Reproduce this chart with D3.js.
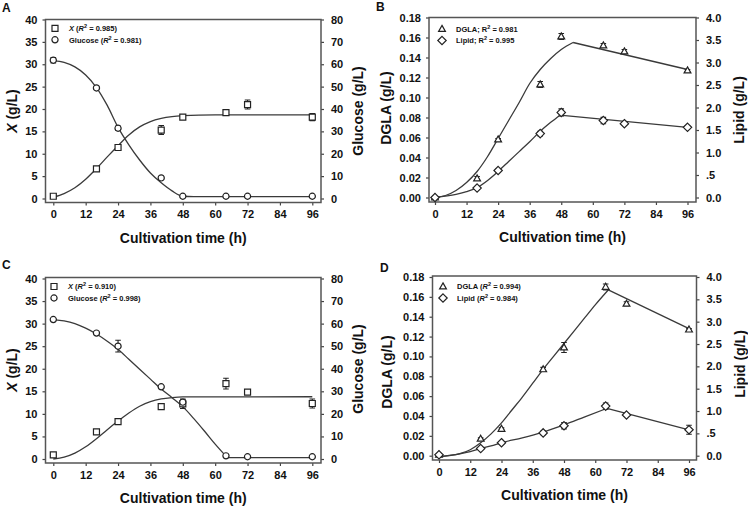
<!DOCTYPE html>
<html><head><meta charset="utf-8">
<script src="https://cdn.jsdelivr.net/npm/d3@7/dist/d3.min.js"></script>
<style>
body{margin:0;background:#fff;}
svg text{font-family:"Liberation Sans",Arial,sans-serif;font-weight:bold;fill:#111;}
</style></head><body>
<svg id="c" width="748" height="506"></svg>
<script>
// ---------- shared ----------
const sampleTimes = [0,16,24,40,48,64,72,96];
const timeTicks = [0,12,24,36,48,60,72,84,96];
const xTitle = "Cultivation time (h)";

// ---------- Panel A (biomass X left, glucose right) ----------
const aBiomass    = [0.5, 6.6, 11.4, 15.3, 18.2, 19.2, 21.0, 18.2];
const aBiomassErr = [0.2, 0.3, 0.5, 1.0, 0.3, 0.4, 1.0, 0.8];
const aGlucose    = [61.8, 49.4, 31.4, 9.2, 1.0, 1.0, 1.0, 1.0];
const aGlucoseErr = [1.2, 0.6, 1.0, 0.4, 0.3, 0.3, 0.3, 0.3];
const aBiomassFitT = [0,4,8,12,16,20,24,28,32,36,40,44,48,60,96];
const aBiomassFit  = [0.3,1.1,2.4,4.3,6.7,9.3,11.8,14.2,16.0,17.2,17.9,18.3,18.5,18.7,18.7];
const aGlucoseFitT = [0,4,8,12,16,20,24,28,32,36,40,44,48,52,96];
const aGlucoseFit  = [61.6,60.8,58.8,55.2,49.6,41.6,31.8,24.0,17.2,11.4,7.0,3.4,1.0,0.8,0.8];

// ---------- Panel B (DGLA left, lipid right) ----------
const bDgla      = [0.000, 0.019, 0.058, 0.113, 0.161, 0.152, 0.146, 0.127];
const bDglaErr   = [0.001, 0.002, 0.001, 0.003, 0.003, 0.002, 0.002, 0.001];
const bLipid     = [0.00, 0.21, 0.60, 1.42, 1.89, 1.71, 1.64, 1.56];
const bLipidErr  = [0.02, 0.03, 0.03, 0.05, 0.08, 0.07, 0.03, 0.03];
const bDglaFitT  = [0,4,8,12,16,20,24,28,32,36,40,44,48,52.5,96];
const bDglaFit   = [0.000,0.002,0.007,0.015,0.026,0.041,0.059,0.077,0.095,0.114,0.128,0.139,0.148,0.155,0.128];
const bLipidFitT = [0,8,12,16,20,24,28,32,36,40,44,47.5,96];
const bLipidFit  = [0.00,0.07,0.13,0.22,0.38,0.58,0.80,1.02,1.24,1.47,1.67,1.83,1.56];

// ---------- Panel C (biomass X left, glucose right) ----------
const cBiomass    = [0.9, 6.0, 8.3, 11.6, 12.2, 16.7, 14.8, 12.3];
const cBiomassErr = [0.2, 0.3, 0.3, 0.3, 1.0, 1.2, 0.3, 1.0];
const cGlucose    = [61.8, 55.8, 50.0, 32.0, 25.2, 1.4, 1.0, 1.0];
const cGlucoseErr = [0.5, 0.5, 2.6, 0.5, 1.4, 0.3, 0.3, 0.3];
const cBiomassFitT = [0,4,8,12,16,20,24,28,32,36,40,44,48,96];
const cBiomassFit  = [0.0,0.4,1.3,2.7,4.5,6.5,8.4,10.2,11.7,12.7,13.3,13.6,13.75,13.8];
const cGlucoseFitT = [0,4,8,12,16,20,24,28,32,36,40,44,48,52,56,60,64.5,96];
const cGlucoseFit  = [61.8,61.2,60.0,58.0,55.4,52.2,48.6,44.2,39.8,35.4,31.0,27.2,23.2,18.0,12.4,6.6,0.6,0.6];

// ---------- Panel D (DGLA left, lipid right) ----------
const dDgla      = [0.001, 0.017, 0.027, 0.087, 0.109, 0.170, 0.153, 0.127];
const dDglaErr   = [0.001, 0.001, 0.001, 0.002, 0.005, 0.003, 0.002, 0.001];
const dLipid     = [0.02, 0.16, 0.29, 0.51, 0.67, 1.11, 0.91, 0.58];
const dLipidErr  = [0.02, 0.02, 0.02, 0.04, 0.07, 0.07, 0.03, 0.10];
const dDglaFitT  = [0,4,8,12,16,20,24,28,32,36,40,44,48,52,56,60,65,96];
const dDglaFit   = [-0.001,0.000,0.002,0.006,0.013,0.022,0.033,0.046,0.059,0.073,0.087,0.100,0.113,0.126,0.139,0.152,0.167,0.128];
const dLipidFitT = [0,8,12,16,20,24,32,40,48,56,64.5,96];
const dLipidFit  = [-0.02,0.04,0.09,0.16,0.22,0.29,0.40,0.53,0.69,0.87,1.06,0.58];

// ---------- axis ticks ----------
const xLeftTicks = [0,5,10,15,20,25,30,35,40];
const glucoseTicks = [0,10,20,30,40,50,60,70,80];
const dglaTicks = [0,0.02,0.04,0.06,0.08,0.10,0.12,0.14,0.16,0.18];
const lipidTicks = [0,0.5,1.0,1.5,2.0,2.5,3.0,3.5,4.0];
const lipidTickLabels = ["0.0",".5","1.0","1.5","2.0","2.5","3.0","3.5","4.0"];

const svg = d3.select("#c");

function sym(g, type, cx, cy) {
  const s = g.append("path").attr("transform", `translate(${cx},${cy})`)
    .attr("fill", "#fff").attr("stroke", "#222").attr("stroke-width", 1.2);
  if (type === "square") s.attr("d", "M-3,-3H3V3H-3Z");
  else if (type === "circle") s.attr("d", d3.symbol(d3.symbolCircle, 30)());
  else if (type === "triangle") s.attr("d", "M0,-3.6L3.4,2.4H-3.4Z");
  else if (type === "diamond") s.attr("d", "M0,-4.2L4.2,0L0,4.2L-4.2,0Z");
}

function panel(cfg) {
  const g = svg.append("g");
  const x = d3.scaleLinear().domain([0, 96]).range(cfg.xr);
  const yL = d3.scaleLinear().domain([0, cfg.leftMax]).range(cfg.yr);
  const yR = d3.scaleLinear().domain([0, cfg.rightMax]).range(cfg.yr);
  const f = cfg.frame;

  // axes
  const ax = g.append("g").attr("transform", `translate(0,${f.y1})`)
    .call(d3.axisBottom(x).tickValues(timeTicks).tickSize(3).tickPadding(5).tickFormat(d3.format("d")));
  const al = g.append("g").attr("transform", `translate(${f.x0},0)`)
    .call(d3.axisLeft(yL).tickValues(cfg.leftTicks).tickSize(3).tickPadding(5).tickFormat(cfg.leftFmt));
  const ar = g.append("g").attr("transform", `translate(${f.x1},0)`)
    .call(d3.axisRight(yR).tickValues(cfg.rightTicks).tickSize(3).tickPadding(7).tickFormat(cfg.rightFmt));
  [ax, al, ar].forEach(a => {
    a.select(".domain").remove();
    a.selectAll(".tick line").attr("stroke", "#444").attr("stroke-width", 1.2);
    a.selectAll(".tick text").attr("font-size", 11).attr("fill", "#111")
      .attr("font-family", '"Liberation Sans",Arial,sans-serif').attr("font-weight", "bold");
  });

  // frame
  g.append("rect").attr("x", f.x0).attr("y", f.y0).attr("width", f.x1 - f.x0).attr("height", f.y1 - f.y0)
    .attr("fill", "none").attr("stroke", "#555").attr("stroke-width", 1.5);

  // fit curves
  cfg.series.forEach(s => {
    const y = s.axis === "L" ? yL : yR;
    const pts = s.fitT.map((t, i) => [t, s.fit[i]]);
    const k = s.kink;
    const a = k == null ? pts : pts.filter(p => p[0] <= k);
    const b = k == null ? [] : pts.filter(p => p[0] >= k);
    const smooth = d3.line().x(p => x(p[0])).y(p => y(p[1])).curve(d3.curveMonotoneX);
    const lin = d3.line().x(p => x(p[0])).y(p => y(p[1]));
    g.append("path").attr("d", smooth(a)).attr("fill", "none").attr("stroke", "#3a3a3a").attr("stroke-width", 1.3);
    if (b.length > 1) g.append("path").attr("d", lin(b)).attr("fill", "none").attr("stroke", "#3a3a3a").attr("stroke-width", 1.3);
  });

  // error bars and markers
  cfg.series.forEach(s => {
    const y = s.axis === "L" ? yL : yR;
    sampleTimes.forEach((t, i) => {
      const cx = x(t), v = s.vals[i], e = s.err[i];
      const y1 = y(v + e), y2 = y(v - e);
      g.append("path").attr("d", `M${cx},${y1}V${y2}M${cx - 2.8},${y1}H${cx + 2.8}M${cx - 2.8},${y2}H${cx + 2.8}`)
        .attr("stroke", "#222").attr("stroke-width", 1.1).attr("fill", "none");
    });
  });
  cfg.series.forEach(s => {
    const y = s.axis === "L" ? yL : yR;
    sampleTimes.forEach((t, i) => sym(g, s.shape, x(t), y(s.vals[i])));
  });

  // legend
  cfg.series.forEach((s, i) => {
    const ly = cfg.legend.y + i * 11.5;
    sym(g, s.shape, cfg.legend.x, ly);
    const tx = g.append("text").attr("x", cfg.legend.x + 14).attr("y", ly + 2.8).attr("font-size", 7.5);
    s.label.forEach(([txt, st]) => {
      const ts = tx.append("tspan").text(txt);
      if (st === "i") ts.attr("font-style", "italic");
      if (st === "sup") ts.attr("font-size", 5.5).attr("dy", -3);
      if (st === "after") ts.attr("dy", 3);
    });
  });

  // titles
  g.append("text").attr("x", (f.x0 + f.x1) / 2).attr("y", f.y1 + 40).attr("text-anchor", "middle")
    .attr("font-size", 14).text(xTitle);
  const lt = g.append("text").attr("transform", `translate(${cfg.leftTitle.x},${cfg.leftTitle.y}) rotate(-90)`)
    .attr("text-anchor", "middle").attr("font-size", 14);
  cfg.leftTitle.parts.forEach(([txt, st]) => {
    const ts = lt.append("tspan").text(txt);
    if (st === "i") ts.attr("font-style", "italic");
  });
  g.append("text").attr("transform", `translate(${cfg.rightTitle.x},${cfg.rightTitle.y}) rotate(-90)`)
    .attr("text-anchor", "middle").attr("font-size", 14).text(cfg.rightTitle.text);
  g.append("text").attr("x", cfg.letter.x).attr("y", cfg.letter.y).attr("font-size", 12).text(cfg.letter.t);
}

const fmtInt = d3.format("d");
const fmt2 = d3.format(".2f");
const lipidFmt = (d, i) => lipidTickLabels[i];

panel({
  frame: {x0: 45.5, x1: 321, y0: 19.5, y1: 202.5}, xr: [53.3, 312.3], yr: [198.5, 19.5],
  leftMax: 40, rightMax: 80, leftTicks: xLeftTicks, rightTicks: glucoseTicks, leftFmt: fmtInt, rightFmt: fmtInt,
  leftTitle: {x: 16.5, y: 111, parts: [["X", "i"], [" (g/L)", ""]]},
  rightTitle: {x: 363, y: 111, text: "Glucose (g/L)"},
  letter: {x: 2, y: 12, t: "A"},
  legend: {x: 55, y: 28.3},
  series: [
    {shape: "square", axis: "L", vals: aBiomass, err: aBiomassErr, fitT: aBiomassFitT, fit: aBiomassFit,
     label: [["X", "i"], [" (", ""], ["R", "i"], ["2", "sup"], [" = 0.985)", "after"]]},
    {shape: "circle", axis: "R", vals: aGlucose, err: aGlucoseErr, fitT: aGlucoseFitT, fit: aGlucoseFit,
     label: [["Glucose (", ""], ["R", "i"], ["2", "sup"], ["  = 0.981)", "after"]]}
  ]
});

panel({
  frame: {x0: 429, x1: 696, y0: 17.5, y1: 202}, xr: [435, 687.5], yr: [197.5, 17.5],
  leftMax: 0.18, rightMax: 4.0, leftTicks: dglaTicks, rightTicks: lipidTicks, leftFmt: fmt2, rightFmt: lipidFmt,
  leftTitle: {x: 391, y: 108, parts: [["DGLA (g/L)", ""]]},
  rightTitle: {x: 744, y: 110, text: "Lipid (g/L)"},
  letter: {x: 376, y: 11, t: "B"},
  legend: {x: 442, y: 29},
  series: [
    {shape: "triangle", axis: "L", vals: bDgla, err: bDglaErr, fitT: bDglaFitT, fit: bDglaFit, kink: 52.5,
     label: [["DGLA; R", ""], ["2", "sup"], [" = 0.981", "after"]]},
    {shape: "diamond", axis: "R", vals: bLipid, err: bLipidErr, fitT: bLipidFitT, fit: bLipidFit, kink: 47.5,
     label: [["Lipid; R", ""], ["2", "sup"], [" = 0.995", "after"]]}
  ]
});

panel({
  frame: {x0: 45.5, x1: 321, y0: 277.5, y1: 463}, xr: [53.3, 312.3], yr: [459, 278.5],
  leftMax: 40, rightMax: 80, leftTicks: xLeftTicks, rightTicks: glucoseTicks, leftFmt: fmtInt, rightFmt: fmtInt,
  leftTitle: {x: 16.5, y: 370, parts: [["X", "i"], [" (g/L)", ""]]},
  rightTitle: {x: 363, y: 369, text: "Glucose (g/L)"},
  letter: {x: 2, y: 269, t: "C"},
  legend: {x: 54, y: 286.5},
  series: [
    {shape: "square", axis: "L", vals: cBiomass, err: cBiomassErr, fitT: cBiomassFitT, fit: cBiomassFit,
     label: [["X", "i"], [" (", ""], ["R", "i"], ["2", "sup"], [" = 0.910)", "after"]]},
    {shape: "circle", axis: "R", vals: cGlucose, err: cGlucoseErr, fitT: cGlucoseFitT, fit: cGlucoseFit, kink: 64.5,
     label: [["Glucose (", ""], ["R", "i"], ["2", "sup"], ["  = 0.998)", "after"]]}
  ]
});

panel({
  frame: {x0: 432.5, x1: 696.5, y0: 276, y1: 460}, xr: [439, 689], yr: [455.7, 277],
  leftMax: 0.18, rightMax: 4.0, leftTicks: dglaTicks, rightTicks: lipidTicks, leftFmt: fmt2, rightFmt: lipidFmt,
  leftTitle: {x: 392, y: 372, parts: [["DGLA (g/L)", ""]]},
  rightTitle: {x: 745, y: 364, text: "Lipid (g/L)"},
  letter: {x: 380, y: 272, t: "D"},
  legend: {x: 443, y: 286.5},
  series: [
    {shape: "triangle", axis: "L", vals: dDgla, err: dDglaErr, fitT: dDglaFitT, fit: dDglaFit, kink: 65,
     label: [["DGLA (", ""], ["R", "i"], ["2", "sup"], [" = 0.994)", "after"]]},
    {shape: "diamond", axis: "R", vals: dLipid, err: dLipidErr, fitT: dLipidFitT, fit: dLipidFit, kink: 64.5,
     label: [["Lipid  (", ""], ["R", "i"], ["2", "sup"], [" = 0.984)", "after"]]}
  ]
});
</script>
</body></html>
